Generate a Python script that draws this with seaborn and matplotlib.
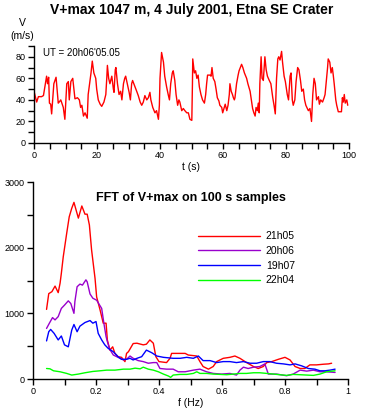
import matplotlib
matplotlib.use("Agg")
import matplotlib.pyplot as plt
import matplotlib.ticker as mticker
import numpy as np
import pandas as pd
import seaborn as sns

# ---- time series, V+max (m/s) vs t (s)
t_s = [0.0, 0.85, 1.4, 2.4, 3.0, 4.0, 4.3, 4.65, 4.9, 5.3, 5.6, 6.3, 7.0, 7.7, 8.0, 8.5,
       9.3, 9.8, 10.4, 10.9, 11.2, 11.7, 12.3, 13.0, 13.8, 14.4, 14.8, 15.2, 15.7, 16.2,
       16.9, 17.2, 17.8, 18.1, 18.5, 19.0, 19.6, 19.9, 20.4, 21.0, 21.5, 22.2, 22.8, 23.1,
       23.3, 23.7, 24.1, 24.7, 25.2, 25.4, 25.8, 26.0, 26.5, 27.0, 27.5, 27.9, 28.4, 28.8,
       29.1, 29.6, 30.2, 30.6, 31.0, 31.3, 32.1, 32.6, 33.1, 33.7, 34.2, 34.7, 35.2, 35.8,
       36.3, 36.8, 37.1, 37.7, 38.4, 38.9, 39.5, 39.8, 40.0, 40.5, 41.1, 41.5, 42.1, 42.6,
       43.0, 43.4, 43.9, 44.2, 44.7, 45.1, 45.6, 46.0, 46.3, 46.9, 47.4, 47.9, 48.5, 49.0,
       49.5, 50.1, 50.3, 50.4, 50.9, 51.3, 51.7, 52.1, 52.5, 53.0, 53.5, 54.1, 54.5, 54.8,
       55.1, 55.9, 56.2, 56.5, 56.9, 57.4, 57.8, 58.2, 58.7, 59.0, 59.6, 59.9, 60.3, 60.7,
       61.2, 61.6, 62.0, 62.2, 62.6, 63.0, 63.3, 63.6, 63.8, 64.3, 64.8, 65.1, 65.9, 66.3,
       66.8, 67.5, 67.9, 68.6, 69.1, 69.4, 69.8, 70.2, 70.5, 70.9, 71.2, 71.5, 71.7, 72.1,
       72.4, 72.8, 73.3, 73.7, 74.1, 74.7, 75.2, 75.8, 76.2, 76.6, 77.0, 77.4, 77.7, 78.1,
       78.6, 78.9, 79.4, 79.8, 80.4, 80.8, 81.3, 81.6, 82.0, 82.3, 82.8, 83.2, 83.7, 84.1,
       84.6, 85.0, 85.5, 85.9, 86.3, 87.1, 87.6, 88.1, 88.5, 88.9, 89.3, 89.7, 90.3, 90.6,
       91.0, 91.6, 92.1, 92.4, 92.9, 93.2, 93.4, 93.9, 94.3, 94.7, 95.0, 95.3, 95.8, 96.1,
       96.6, 97.1, 97.6, 97.9, 98.2, 98.5, 98.8, 99.3, 99.6]
v_ms = [48, 38, 43, 43, 44, 62, 55, 61, 37, 36, 27, 55, 61, 37, 38, 40,
        33, 22, 55, 57, 40, 57, 60, 41, 42, 40, 33, 35, 25, 28,
        23, 45, 58, 65, 76, 65, 60, 50, 40, 36, 34, 38, 45, 60,
        72, 60, 55, 62, 50, 47, 68, 70, 55, 45, 48, 40, 55, 60,
        62, 55, 47, 40, 55, 58, 52, 48, 44, 38, 35, 38, 44, 40,
        42, 47, 40, 33, 28, 30, 22, 35, 60, 84, 75, 62, 52, 45,
        40, 55, 65, 67, 58, 45, 35, 40, 38, 30, 32, 30, 28, 28,
        22, 21, 55, 78, 65, 67, 60, 63, 52, 45, 40, 37, 45, 55,
        63, 63, 62, 70, 60, 57, 50, 42, 39, 35, 33, 28, 32, 36,
        30, 35, 45, 55, 48, 45, 42, 40, 42, 55, 63, 67, 73, 70,
        65, 60, 55, 48, 38, 32, 28, 25, 33, 30, 37, 28, 55, 80,
        60, 58, 80, 68, 62, 58, 55, 42, 35, 27, 60, 78, 80, 77,
        85, 75, 62, 57, 45, 40, 62, 65, 40, 35, 40, 57, 70, 68,
        58, 48, 50, 40, 35, 30, 32, 20, 45, 60, 55, 40, 43, 36,
        40, 38, 42, 45, 60, 70, 78, 75, 65, 70, 63, 55, 40, 35,
        29, 29, 29, 42, 38, 45, 37, 40, 35]

# ---- FFT amplitude spectra
freq_21h05 = [0.043, 0.05, 0.06, 0.07, 0.08, 0.086, 0.09, 0.096, 0.107, 0.115, 0.123, 0.13,
              0.144, 0.155, 0.165, 0.172, 0.179, 0.186, 0.197, 0.202, 0.213, 0.223, 0.232,
              0.236, 0.244, 0.253, 0.26, 0.27, 0.281, 0.292, 0.297, 0.303, 0.318, 0.33, 0.35,
              0.36, 0.371, 0.382, 0.39, 0.40, 0.424, 0.435, 0.44, 0.456, 0.483, 0.493, 0.52,
              0.53, 0.54, 0.557, 0.572, 0.583, 0.604, 0.625, 0.641, 0.657, 0.678, 0.7, 0.715,
              0.731, 0.742, 0.758, 0.779, 0.8, 0.816, 0.832, 0.848, 0.863, 0.879, 0.9, 0.922,
              0.938, 0.948]
amp_21h05 = [1060, 1300, 1330, 1415, 1315, 1460, 1610, 1860, 2220, 2470, 2600, 2690,
             2450, 2635, 2510, 2510, 2345, 1965, 1530, 1250, 1050, 850, 850,
             595, 440, 490, 390, 340, 330, 265, 390, 416, 540, 545, 520,
             530, 595, 545, 340, 265, 250, 315, 390, 390, 390, 365, 350,
             265, 190, 150, 190, 265, 315, 330, 350, 315, 250, 190, 160,
             190, 250, 265, 300, 330, 290, 190, 160, 160, 215, 215, 225,
             230, 240]

freq_20h06 = [0.043, 0.052, 0.062, 0.07, 0.08, 0.09, 0.1, 0.112, 0.12, 0.13, 0.133, 0.14,
              0.149, 0.157, 0.168, 0.172, 0.181, 0.19, 0.202, 0.218, 0.225, 0.232, 0.236,
              0.244, 0.255, 0.27, 0.287, 0.297, 0.308, 0.318, 0.334, 0.35, 0.366, 0.382,
              0.393, 0.403, 0.424, 0.445, 0.461, 0.483, 0.509, 0.53, 0.551, 0.572, 0.599,
              0.625, 0.646, 0.657, 0.668, 0.683, 0.7, 0.72, 0.736, 0.747, 0.773, 0.805,
              0.826, 0.848, 0.869, 0.89, 0.911, 0.932, 0.959]
amp_20h06 = [770, 850, 935, 900, 950, 1075, 1125, 1190, 1150, 1000, 1180, 1405,
             1445, 1430, 1510, 1480, 1295, 1230, 1200, 1075, 850, 645, 570,
             450, 365, 330, 290, 300, 350, 315, 280, 265, 240, 250,
             250, 160, 150, 150, 110, 110, 135, 150, 110, 85, 75,
             85, 60, 135, 180, 160, 180, 190, 230, 75, 75, 50,
             75, 135, 120, 135, 110, 110, 100]

freq_19h07 = [0.043, 0.05, 0.056, 0.067, 0.08, 0.09, 0.1, 0.112, 0.123, 0.13, 0.14, 0.149,
              0.165, 0.181, 0.19, 0.2, 0.207, 0.218, 0.228, 0.239, 0.255, 0.27, 0.281,
              0.297, 0.308, 0.318, 0.33, 0.345, 0.36, 0.377, 0.393, 0.414, 0.445, 0.467,
              0.488, 0.509, 0.525, 0.54, 0.562, 0.583, 0.604, 0.625, 0.646, 0.668, 0.689,
              0.71, 0.731, 0.752, 0.773, 0.795, 0.816, 0.832, 0.853, 0.874, 0.895, 0.911,
              0.927, 0.943, 0.959]
amp_19h07 = [580, 720, 755, 695, 595, 655, 520, 490, 745, 830, 720, 805,
             860, 890, 850, 875, 695, 595, 520, 465, 415, 340, 300,
             300, 315, 290, 315, 340, 440, 400, 350, 330, 315, 315,
             330, 315, 350, 280, 280, 250, 265, 265, 250, 265, 240,
             240, 265, 265, 240, 230, 215, 230, 200, 160, 150, 125,
             125, 135, 150]

freq_22h04 = [0.043, 0.054, 0.065, 0.086, 0.107, 0.123, 0.144, 0.165, 0.19, 0.213, 0.234,
              0.26, 0.287, 0.308, 0.324, 0.34, 0.35, 0.366, 0.382, 0.398, 0.414, 0.43,
              0.437, 0.445, 0.467, 0.488, 0.509, 0.52, 0.53, 0.551, 0.572, 0.594, 0.615,
              0.636, 0.657, 0.678, 0.7, 0.72, 0.742, 0.763, 0.784, 0.805, 0.826, 0.848,
              0.869, 0.89, 0.911, 0.932, 0.959]
amp_22h04 = [160, 155, 125, 110, 85, 60, 75, 95, 115, 125, 135,
             135, 150, 150, 165, 155, 180, 150, 135, 110, 75, 45,
             25, 60, 70, 70, 85, 110, 85, 85, 75, 70, 65,
             75, 85, 85, 95, 95, 85, 75, 65, 55, 70, 65,
             60, 55, 75, 110, 125]

series_names = ["21h05", "20h06", "19h07", "22h04"]
series_colors = ["#ff0000", "#9900cc", "#0000ff", "#00ff00"]

fft_df = pd.concat([
    pd.DataFrame({"f": f, "amp": a, "time": name})
    for f, a, name in zip([freq_21h05, freq_20h06, freq_19h07, freq_22h04],
                          [amp_21h05, amp_20h06, amp_19h07, amp_22h04],
                          series_names)
], ignore_index=True)
ts_df = pd.DataFrame({"t": t_s, "v": v_ms})

sns.set_style("ticks")
plt.rcParams["font.family"] = ["Liberation Sans", "DejaVu Sans"]
plt.rcParams["text.color"] = "black"
plt.rcParams["axes.labelcolor"] = "black"
plt.rcParams["xtick.color"] = "black"
plt.rcParams["ytick.color"] = "black"

W, H = 373, 415
fig = plt.figure(figsize=(W / 100, H / 100), dpi=100)


def px_axes(x0, x1, y_top, y_bot):
    return fig.add_axes([x0 / W, 1 - y_bot / H, (x1 - x0) / W, (y_bot - y_top) / H])


def style_axes(ax):
    sns.despine(ax=ax)
    for side in ["left", "bottom"]:
        ax.spines[side].set_linewidth(1.0)
        ax.spines[side].set_color("black")
    ax.tick_params(which="both", direction="out", length=4, width=1.0,
                   labelsize=6.5, pad=2, color="black", labelcolor="black")
    ax.set_facecolor("white")


# ---- top panel: time series
ax1 = px_axes(34, 349, 46, 143)
sns.lineplot(data=ts_df, x="t", y="v", color="#ff0000", linewidth=1.0,
             estimator=None, sort=False, ax=ax1)
ax1.set_xlim(0, 100)
ax1.set_ylim(0, 90)
ax1.xaxis.set_major_locator(mticker.MultipleLocator(20))
ax1.xaxis.set_minor_locator(mticker.MultipleLocator(5))
ax1.yaxis.set_major_locator(mticker.FixedLocator([0, 20, 40, 60, 80]))
ax1.yaxis.set_minor_locator(mticker.MultipleLocator(10))
style_axes(ax1)
ax1.set_xlabel("t (s)", fontsize=7.5, labelpad=1)
ax1.set_ylabel("")
ax1.text(0.03, 0.93, "UT = 20h06'05.05", transform=ax1.transAxes,
         fontsize=7, va="center", ha="left")
fig.text(22 / W, 1 - 23 / H, "V", fontsize=7.5, ha="center", va="center")
fig.text(22 / W, 1 - 36 / H, "(m/s)", fontsize=7.5, ha="center", va="center")
fig.text(192 / W, 1 - 10 / H, "V+max 1047 m, 4 July 2001, Etna SE Crater",
         fontsize=10, fontweight="bold", ha="center", va="center")

# ---- bottom panel: FFT spectra
ax2 = px_axes(33, 348, 182, 379)
sns.lineplot(data=fft_df, x="f", y="amp", hue="time", hue_order=series_names,
             palette=dict(zip(series_names, series_colors)), linewidth=1.0,
             estimator=None, sort=False, ax=ax2)
ax2.set_xlim(0, 1)
ax2.set_ylim(0, 3000)
ax2.xaxis.set_major_locator(mticker.MultipleLocator(0.2))
ax2.xaxis.set_minor_locator(mticker.MultipleLocator(0.1))
ax2.xaxis.set_major_formatter(mticker.FuncFormatter(lambda v, p: f"{v:g}"))
ax2.yaxis.set_major_locator(mticker.MultipleLocator(1000))
ax2.yaxis.set_minor_locator(mticker.MultipleLocator(500))
style_axes(ax2)
ax2.set_xlabel("f (Hz)", fontsize=7.5, labelpad=1)
ax2.set_ylabel("")
ax2.text(0.5, 0.92, "FFT of V+max on 100 s samples", transform=ax2.transAxes,
         fontsize=9, fontweight="bold", ha="center", va="center")
ax2.legend(loc="upper left", bbox_to_anchor=(0.524, 0.75), frameon=False,
           fontsize=7.5, handlelength=5.9, handletextpad=0.6,
           labelspacing=0.45, borderpad=0, borderaxespad=0, title=None)

fig.savefig("out.png", dpi=100, facecolor="white")
